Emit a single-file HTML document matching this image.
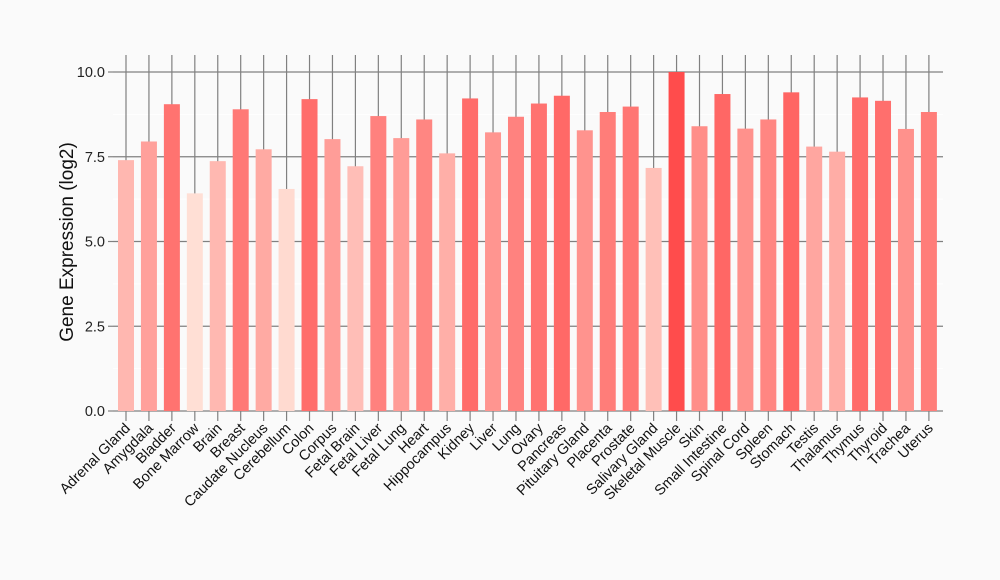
<!DOCTYPE html>
<html><head><meta charset="utf-8"><style>
html,body{margin:0;padding:0;background:#fafafa;}
svg{display:block;font-family:"Liberation Sans",Arial,sans-serif;}
</style></head><body>
<svg id="c" width="1000" height="580" viewBox="0 0 1000 580" xmlns="http://www.w3.org/2000/svg">
<rect width="1000" height="580" fill="#fafafa"/>
</svg>
<script>
var names=["Adrenal Gland","Amygdala","Bladder","Bone Marrow","Brain","Breast","Caudate Nucleus","Cerebellum","Colon","Corpus","Fetal Brain","Fetal Liver","Fetal Lung","Heart","Hippocampus","Kidney","Liver","Lung","Ovary","Pancreas","Pituitary Gland","Placenta","Prostate","Salivary Gland","Skeletal Muscle","Skin","Small Intestine","Spinal Cord","Spleen","Stomach","Testis","Thalamus","Thymus","Thyroid","Trachea","Uterus"];
var vals=[7.4,7.95,9.05,6.42,7.37,8.9,7.72,6.55,9.2,8.02,7.22,8.7,8.05,8.6,7.6,9.22,8.22,8.68,9.07,9.3,8.28,8.82,8.98,7.17,10.0,8.4,9.35,8.33,8.6,9.4,7.8,7.65,9.25,9.15,8.32,8.82];
var s='';
var y0=411,k=33.9,x0=126,dx=22.94,L=113,R=943;
function Y(v){return y0-v*k;}
for(var m=1.25;m<10;m+=2.5){s+='<line x1="'+L+'" x2="'+R+'" y1="'+Y(m)+'" y2="'+Y(m)+'" stroke="#ffffff" stroke-width="1"/>';}
[0,2.5,5,7.5,10].forEach(function(v){var y=Y(v);
s+='<line x1="'+L+'" x2="'+R+'" y1="'+y+'" y2="'+y+'" stroke="#808080" stroke-width="1.2"/>';
s+='<line x1="108" x2="'+L+'" y1="'+y+'" y2="'+y+'" stroke="#808080" stroke-width="1.2"/>';
s+='<text x="105" y="'+(y+5)+'" text-anchor="end" font-size="14.5" fill="#222">'+v.toFixed(1)+'</text>';});
for(var i=0;i<names.length;i++){var cx=x0+i*dx;
s+='<line x1="'+cx+'" x2="'+cx+'" y1="55" y2="421" stroke="#808080" stroke-width="1.2"/>';}
for(var i=0;i<names.length;i++){var cx=x0+i*dx,v=vals[i];
var t=Math.max(0,Math.min(1,(v-6.4)/3.6));
var g=Math.round(224-t*(224-76)),b=Math.round(214-t*(214-76));
s+='<rect x="'+(cx-8)+'" y="'+Y(v)+'" width="16" height="'+(v*k)+'" fill="rgb(255,'+g+','+b+')"/>';
s+='<text transform="translate('+(cx+5)+',429) rotate(-45)" text-anchor="end" font-size="14.5" fill="#111">'+names[i]+'</text>';}
s+='<text transform="translate(73,242) rotate(-90)" text-anchor="middle" font-size="19" fill="#111">Gene Expression (log2)</text>';
document.getElementById('c').insertAdjacentHTML('beforeend',s);
</script>
</body></html>
